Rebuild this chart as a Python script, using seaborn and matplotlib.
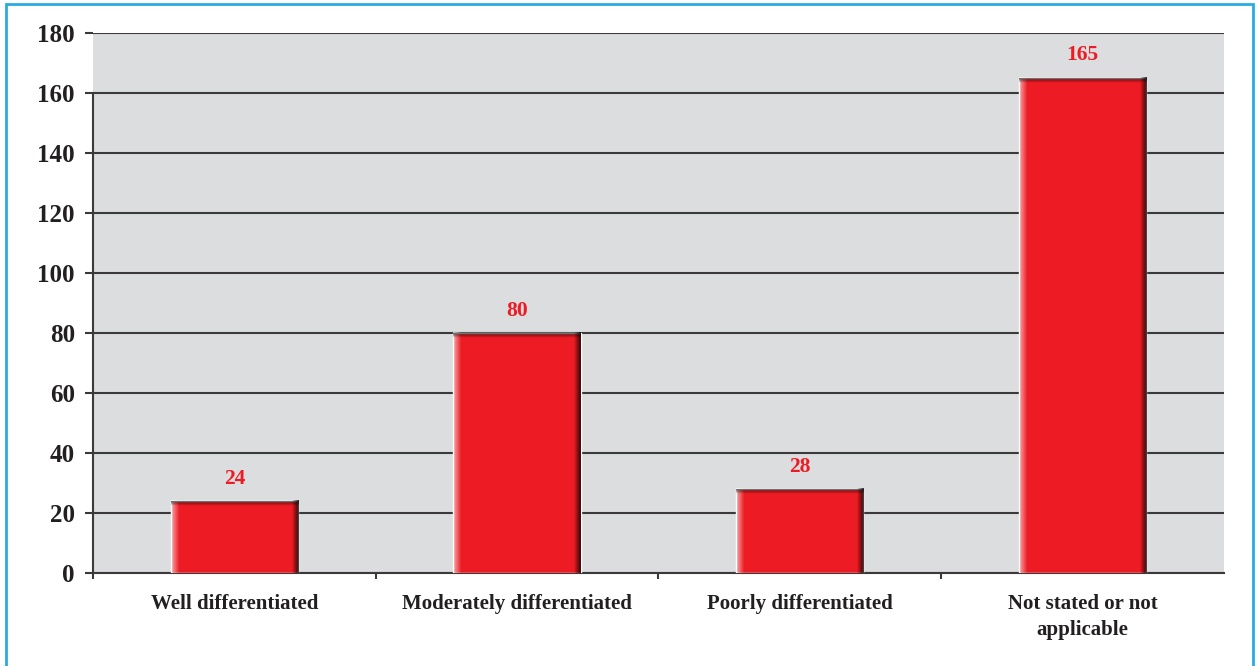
import numpy as np
import pandas as pd
import matplotlib
matplotlib.use("Agg")
import matplotlib.pyplot as plt
import seaborn as sns
from matplotlib.patches import Rectangle

# data
categories = ["Well differentiated", "Moderately differentiated",
              "Poorly differentiated", "Not stated or not\napplicable"]
counts = [24, 80, 28, 165]
y_ticks = [0, 20, 40, 60, 80, 100, 120, 140, 160, 180]

df = pd.DataFrame({"grade": categories, "n": counts})

sns.set_style("white")
plt.rcParams["font.family"] = ["Liberation Serif", "DejaVu Serif"]
plt.rcParams["font.weight"] = "bold"

red = "#ED1C24"
ink = "#231F20"

fig = plt.figure(figsize=(12.57, 6.66), dpi=100)
ax = fig.add_axes([0.074, 0.1396, 0.8997, 0.8109])
ax.set_facecolor("#DCDDDF")

sns.barplot(data=df, x="grade", y="n", color=red, saturation=1,
            width=0.45, ax=ax, zorder=3)

# shading on the bars (light left edge, dark right and top edges)
for p in ax.patches:
    x0, w, h = p.get_x(), p.get_width(), p.get_height()
    light = np.zeros((1, 100, 4))
    light[0, :, :3] = 1.0
    light[0, :, 3] = np.clip(1 - np.arange(100) / 6.0, 0, 1) * 0.6
    dark = np.zeros((1, 100, 4))
    dark[0, :, 3] = np.clip((np.arange(100) - 94) / 5.0, 0, 1) * 0.75
    ax.imshow(light, extent=[x0, x0 + w, 0, h], aspect="auto", zorder=4,
              interpolation="bilinear")
    ax.imshow(dark, extent=[x0, x0 + w, 0, h], aspect="auto", zorder=4,
              interpolation="bilinear")
    top = np.zeros((10, 1, 4))
    top[:, 0, 3] = np.linspace(0.6, 0, 10)
    ax.imshow(top, extent=[x0, x0 + w, h - 1.6, h], aspect="auto", zorder=4,
              interpolation="bilinear")
    ax.annotate(f"{int(round(h))}", (x0 + w / 2, h), xytext=(0, 9),
                textcoords="offset points", ha="center", va="bottom",
                color=red, fontsize=15.5, fontweight="bold", zorder=5)

ax.set_xlim(-0.5, 3.5)
ax.set_ylim(0, 180)
ax.set_yticks(y_ticks)
ax.yaxis.grid(True, color="#3A3A3A", lw=1.5, zorder=1)
ax.set_axisbelow(True)

ax.set_xlabel("")
ax.set_ylabel("")
ax.set_xticks(range(len(categories)))
ax.set_xticklabels(categories, fontsize=15, fontweight="bold", color=ink,
                   linespacing=1.4)
ax.set_xticks([-0.5, 0.5, 1.5, 2.5], minor=True)
ax.tick_params(axis="x", which="major", length=0, pad=15)
ax.tick_params(axis="x", which="minor", length=4, width=1.5, color="#3A3A3A",
               direction="out", bottom=True)
ax.tick_params(axis="y", length=6, width=1.5, color="#3A3A3A", pad=7,
               labelsize=18, labelcolor=ink, left=True)
for lab in ax.get_yticklabels():
    lab.set_fontweight("bold")

for s in ["top", "right"]:
    ax.spines[s].set_visible(False)
ax.spines["left"].set_bounds(0, 160)
ax.spines["left"].set_color("#3A3A3A")
ax.spines["left"].set_linewidth(1.5)
ax.spines["bottom"].set_color("#3A3A3A")
ax.spines["bottom"].set_linewidth(1.5)

# cyan frame around the figure
fig.patches.append(Rectangle((0.005, -0.01), 0.992, 1.004,
                             transform=fig.transFigure, fill=False,
                             edgecolor="#29ABE2", lw=2))

fig.savefig("out.png", dpi=100)
